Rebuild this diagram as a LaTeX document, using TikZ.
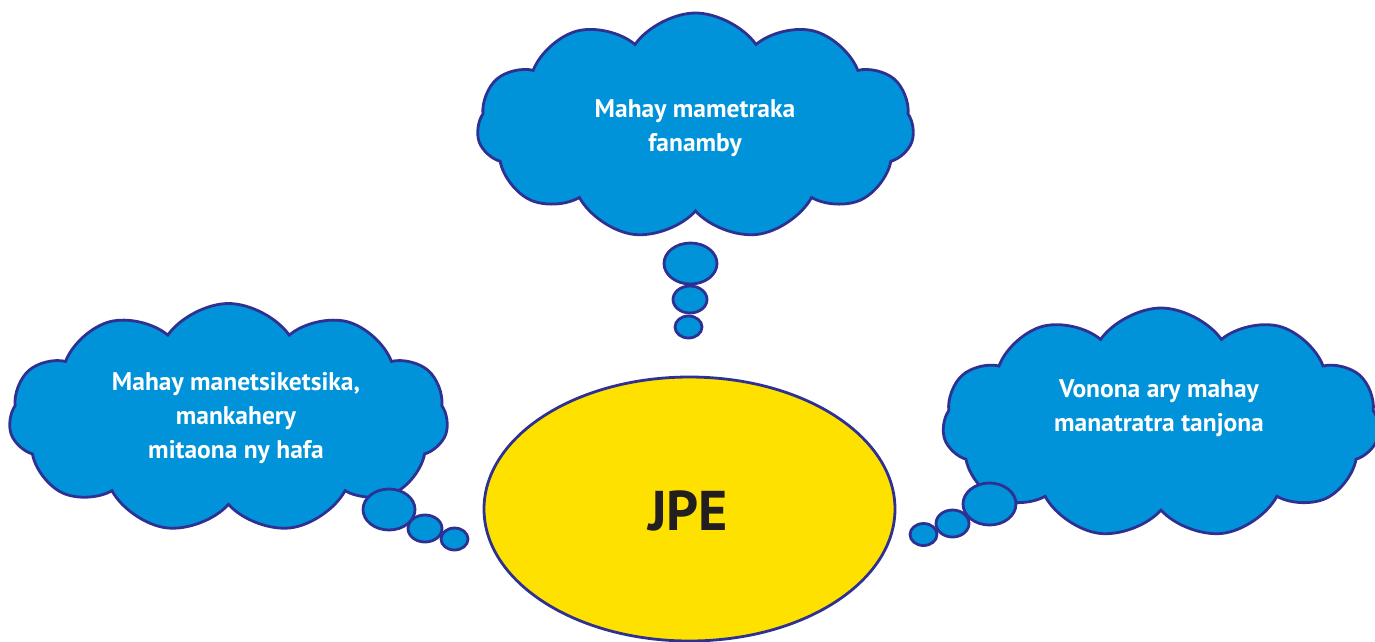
\documentclass[tikz,border=0pt]{standalone}
\usepackage{fontspec}
\setmainfont{PT Sans}
\usetikzlibrary{shapes.symbols,shapes.geometric}
\definecolor{cloudblue}{HTML}{0093D9}
\definecolor{navy}{HTML}{2E3192}
\definecolor{sunyellow}{HTML}{FFE100}
\definecolor{inkblack}{HTML}{231F20}
\tikzset{
  thought/.style={cloud, cloud puffs=11, cloud puff arc=110, aspect=1.9,
    draw=navy, fill=cloudblue, line width=2.8pt, inner sep=0pt},
  bubble/.style={ellipse, draw=navy, fill=cloudblue, line width=2.8pt, inner sep=0pt},
  cloudtext/.style={text=white, font=\bfseries\fontsize{25.5}{34}\selectfont, align=center, inner sep=0pt},
}
\begin{document}
\begin{tikzpicture}[x=1pt,y=-1pt]
\useasboundingbox (0,0) rectangle (1375,641);
% top cloud
\node[thought, minimum width=437pt, minimum height=226pt] (ctop) at (695.5,126) {};
\node[bubble, minimum width=53pt, minimum height=41pt] (t1) at (690.5,263.5) {};
\node[bubble, minimum width=34pt, minimum height=27pt] (t2) at (690,299.5) {};
\node[bubble, minimum width=27pt, minimum height=22pt] (t3) at (688.5,327) {};
\node[cloudtext] (ttop) at (695,128) {Mahay mametraka\\fanamby};
% left cloud
\node[thought, minimum width=439pt, minimum height=229pt] (cleft) at (228.5,418) {};
\node[bubble, minimum width=52pt, minimum height=41pt] (l1) at (389,509.5) {};
\node[bubble, minimum width=34pt, minimum height=27pt] (l2) at (425,528.5) {};
\node[bubble, minimum width=27pt, minimum height=22pt] (l3) at (454.5,539) {};
\node[cloudtext] (tleft) at (236,418) {Mahay manetsiketsika,\\mankahery\\mitaona ny hafa};
% right cloud
\node[thought, minimum width=437pt, minimum height=230pt] (cright) at (1161,423) {};
\node[bubble, minimum width=53pt, minimum height=42pt] (r1) at (989.5,504) {};
\node[bubble, minimum width=33pt, minimum height=27pt] (r2) at (952.5,523.5) {};
\node[bubble, minimum width=27pt, minimum height=22pt] (r3) at (923.5,534.5) {};
\node[cloudtext] (tright) at (1159,408) {Vonona ary mahay\\manatratra tanjona};
% central ellipse
\node[ellipse, draw=navy, fill=sunyellow, line width=2.8pt, minimum width=411pt, minimum height=264pt, inner sep=0pt] (jpe) at (689.5,509) {};
\node[text=inkblack, font=\bfseries\fontsize{56}{56}\selectfont, inner sep=0pt] (jpetext) at (688,511) {JPE};
\end{tikzpicture}
\end{document}
